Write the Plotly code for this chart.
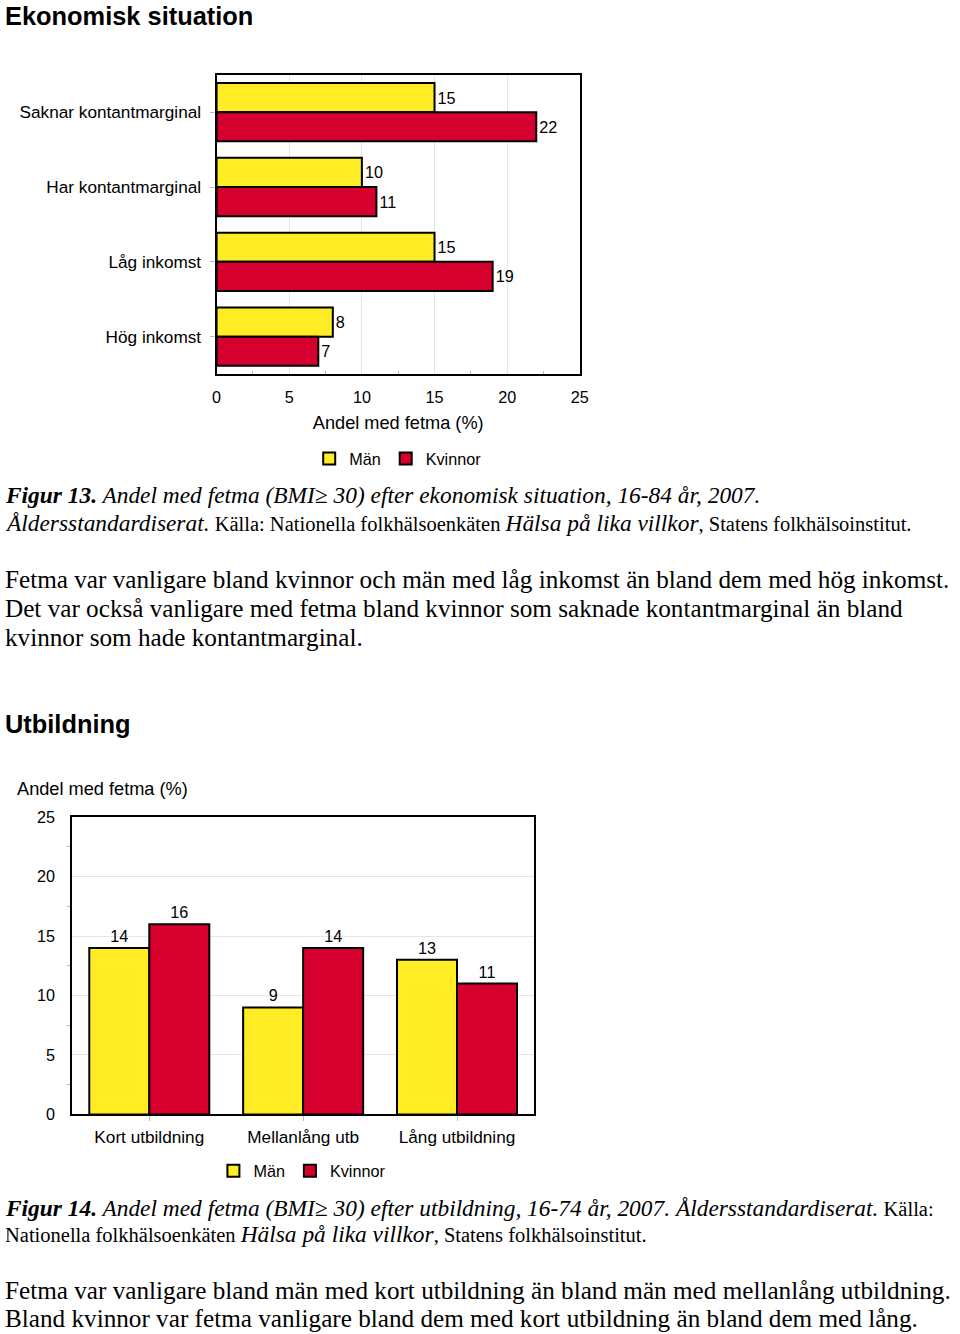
import plotly.graph_objects as go

# ---- data ----
econ_categories = ["Saknar kontantmarginal", "Har kontantmarginal", "Låg inkomst", "Hög inkomst"]
econ_man = [15, 10, 15, 8]
econ_kvinnor = [22, 11, 19, 7]

utb_categories = ["Kort utbildning", "Mellanlång utb", "Lång utbildning"]
utb_man = [14, 9, 13]
utb_kvinnor = [16, 14, 11]

axis_ticks = [0, 5, 10, 15, 20, 25]
series_names = ["Män", "Kvinnor"]

YELLOW = "#FFEC25"
RED = "#D5002E"
SANS = "Liberation Sans, Arial, sans-serif"
SERIF = "Liberation Serif, Times New Roman, serif"

W, H = 960, 1334
# page-pixel -> figure-pixel (compensates the slight scale/offset of the photographed page)
AX, BX = 4.0, 0.9874
AY, BY = 7.1, 0.9887
def fx(r):
    return (r - AX) / BX
def fy(r):
    return (r - AY) / BY
def px(r):
    return fx(r) / W
def py(r):
    return 1 - fy(r) / H
def fs(s):
    return round(s / BY, 1)

fig = go.Figure()

bar_line = dict(color="black", width=2)
label_font = dict(family=SANS, size=fs(16), color="black")

fig.add_trace(go.Bar(y=econ_categories, x=econ_man, orientation="h", name=series_names[0],
                     marker=dict(color=YELLOW, line=bar_line), text=econ_man,
                     textposition="outside", textfont=label_font, cliponaxis=False,
                     xaxis="x", yaxis="y", legend="legend"))
fig.add_trace(go.Bar(y=econ_categories, x=econ_kvinnor, orientation="h", name=series_names[1],
                     marker=dict(color=RED, line=bar_line), text=econ_kvinnor,
                     textposition="outside", textfont=label_font, cliponaxis=False,
                     xaxis="x", yaxis="y", legend="legend"))
fig.add_trace(go.Bar(x=utb_categories, y=utb_man, name=series_names[0],
                     marker=dict(color=YELLOW, line=bar_line), text=utb_man,
                     textposition="outside", textfont=label_font, cliponaxis=False,
                     xaxis="x2", yaxis="y2", legend="legend2"))
fig.add_trace(go.Bar(x=utb_categories, y=utb_kvinnor, name=series_names[1],
                     marker=dict(color=RED, line=bar_line), text=utb_kvinnor,
                     textposition="outside", textfont=label_font, cliponaxis=False,
                     xaxis="x2", yaxis="y2", legend="legend2"))

tick_font = dict(family=SANS, size=fs(16), color="black")
cat_font = dict(family=SANS, size=fs(17), color="black")

fig.update_layout(
    width=W, height=H,
    margin=dict(l=0, r=0, t=0, b=0),
    paper_bgcolor="white", plot_bgcolor="white",
    barmode="group", bargap=0.22, bargroupgap=0,
    font=dict(family=SANS, color="black"),
    xaxis=dict(domain=[px(216), px(580)], anchor="y", range=[0, 25],
               tickvals=axis_ticks, ticktext=[str(t) for t in axis_ticks],
               tickfont=tick_font, showgrid=True, gridcolor="#E6E6E6", gridwidth=1,
               showline=True, linecolor="black", linewidth=2, mirror=True,
               ticks="", ticklabelstandoff=7, zeroline=False,
               minor=dict(tickvals=[2.5, 7.5, 12.5, 17.5, 22.5], ticks="inside", ticklen=3, tickcolor="#BBBBBB", showgrid=False),
               title=dict(text="Andel med fetma (%)", font=dict(family=SANS, size=fs(18)), standoff=12)),
    yaxis=dict(domain=[py(373), py(73)], anchor="x", autorange="reversed",
               tickfont=cat_font, showgrid=False,
               showline=True, linecolor="black", linewidth=2, mirror=True,
               ticks="outside", ticklen=5, tickcolor="#BBBBBB", ticklabelstandoff=5),
    xaxis2=dict(domain=[px(71.5), px(534)], anchor="y2",
                tickfont=cat_font, showgrid=False,
                showline=True, linecolor="black", linewidth=2, mirror=True,
                ticks="outside", ticklen=5, tickcolor="#BBBBBB", ticklabelstandoff=1),
    yaxis2=dict(domain=[py(1115), py(817)], anchor="x2", range=[0, 25],
                tickvals=axis_ticks, ticktext=[str(t) for t in axis_ticks],
                tickfont=tick_font, showgrid=True, gridcolor="#E6E6E6", gridwidth=1,
                showline=True, linecolor="black", linewidth=2, mirror=True,
                ticks="", ticklabelstandoff=12, zeroline=False,
                minor=dict(tickvals=[2.5, 7.5, 12.5, 17.5, 22.5], ticks="outside", ticklen=3, tickcolor="#BBBBBB", showgrid=False)),
    legend=dict(orientation="h", x=px(397.5), xanchor="center", y=py(458), yanchor="middle",
                font=dict(family=SANS, size=fs(16)), itemwidth=30, bgcolor="rgba(0,0,0,0)",
                traceorder="normal"),
    legend2=dict(orientation="h", x=px(301.5), xanchor="center", y=py(1172), yanchor="middle",
                 font=dict(family=SANS, size=fs(16)), itemwidth=30, bgcolor="rgba(0,0,0,0)",
                 traceorder="normal"),
    showlegend=True,
)

anns = []
def text(x, y, s, family=SERIF, size=20.5, fig_y=None):
    anns.append(dict(xref="paper", yref="paper", x=x / W, y=(1 - fig_y / H) if fig_y is not None else py(y),
                     xanchor="left", yanchor="middle",
                     text=s, showarrow=False, align="left",
                     font=dict(family=family, size=size, color="black")))

IT = 23.4
def it(s):
    return '<span style="font-size:%spx"><i>%s</i></span>' % (IT, s)
def bit(s):
    return '<span style="font-size:%spx"><b><i>%s</i></b></span>' % (IT, s)

LX = -2.5  # figure px; text glyphs start at the page's left text edge
text(LX, 10, "<b>Ekonomisk situation</b>", SANS, 25.4, fig_y=7)
text(LX, 724, "<b>Utbildning</b>", SANS, 25.4)
text(fx(16) - 2.5, 789, "Andel med fetma (%)", SANS, fs(18))

text(LX, 494, bit("Figur 13.") + it(" Andel med fetma (BMI≥ 30) efter ekonomisk situation, 16-84 år, 2007."))
text(LX, 522, it("Åldersstandardiserat.") + " Källa: Nationella folkhälsoenkäten " + it("Hälsa på lika villkor") + ", Statens folkhälsoinstitut.")

BODY = 25.2
text(LX, 579, "Fetma var vanligare bland kvinnor och män med låg inkomst än bland dem med hög inkomst.", SERIF, BODY)
text(LX, 608, "Det var också vanligare med fetma bland kvinnor som saknade kontantmarginal än bland", SERIF, BODY)
text(LX, 637, "kvinnor som hade kontantmarginal.", SERIF, BODY)

text(LX, 1209, bit("Figur 14.") + it(" Andel med fetma (BMI≥ 30) efter utbildning, 16-74 år, 2007. Åldersstandardiserat.") + " Källa:")
text(LX, 1235, "Nationella folkhälsoenkäten " + it("Hälsa på lika villkor") + ", Statens folkhälsoinstitut.")

text(LX, 1291, "Fetma var vanligare bland män med kort utbildning än bland män med mellanlång utbildning.", SERIF, BODY)
text(LX, 1320, "Bland kvinnor var fetma vanligare bland dem med kort utbildning än bland dem med lång.", SERIF, BODY)

fig.update_layout(annotations=anns)

fig.write_html("out.html")
